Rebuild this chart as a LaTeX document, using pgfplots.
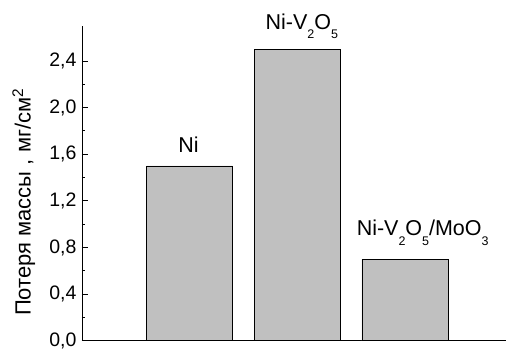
\documentclass[border=0pt]{standalone}
\usepackage{fontspec}
\setmainfont{Liberation Sans}
\usepackage{pgfplots}
\pgfplotsset{compat=1.18}
\newcommand\sub[1]{\raisebox{-9.5pt}{\fontsize{12.5}{13}\selectfont #1}}
\begin{document}
\begin{tikzpicture}
\path (0pt,0pt) rectangle (506pt,347pt);
\begin{axis}[
  at={(82pt,6pt)}, anchor=south west,
  scale only axis, width=424pt, height=315pt,
  axis lines*=left,
  xmin=0, xmax=3.934, ymin=0, ymax=2.7,
  xtick={1,2,3}, xticklabels={},
  ytick={0,0.4,...,2.4},
  minor y tick num=1,
  tick align=inside,
  major tick length=6.5pt, minor tick length=3.5pt,
  tick style={black, line width=0.8pt},
  axis line style={line width=0.8pt},
  yticklabel style={/pgf/number format/use comma, /pgf/number format/fixed, /pgf/number format/fixed zerofill, /pgf/number format/precision=1, /pgf/number format/assume math mode=true, xshift=-2pt},
  ticklabel style={font=\fontsize{19.5}{22}\selectfont},
  ylabel={Потеря массы , мг/см\textsuperscript{2}},
  ylabel style={font=\fontsize{22}{24}\selectfont, at={(axis description cs:-0.137,0.44)}, anchor=center},
  clip=false,
]
\addplot[ybar, bar width=0.8, fill={rgb,255:red,192;green,192;blue,192}, draw=black, line width=0.6pt] coordinates {(1,1.5) (2,2.5) (3,0.7)};
\node[anchor=base west, inner sep=0pt, font=\fontsize{21.5}{23}\selectfont] at (axis cs:0.893,1.614) {Ni};
\node[anchor=base west, inner sep=0pt, font=\fontsize{21.5}{23}\selectfont] at (axis cs:1.704,2.672) {Ni-V\sub{2}O\sub{5}};
\node[anchor=base west, inner sep=0pt, font=\fontsize{21.5}{23}\selectfont] at (axis cs:2.55,0.900) {Ni-V\sub{2}O\sub{5}/MoO\sub{3}};
\end{axis}
\end{tikzpicture}
\end{document}
